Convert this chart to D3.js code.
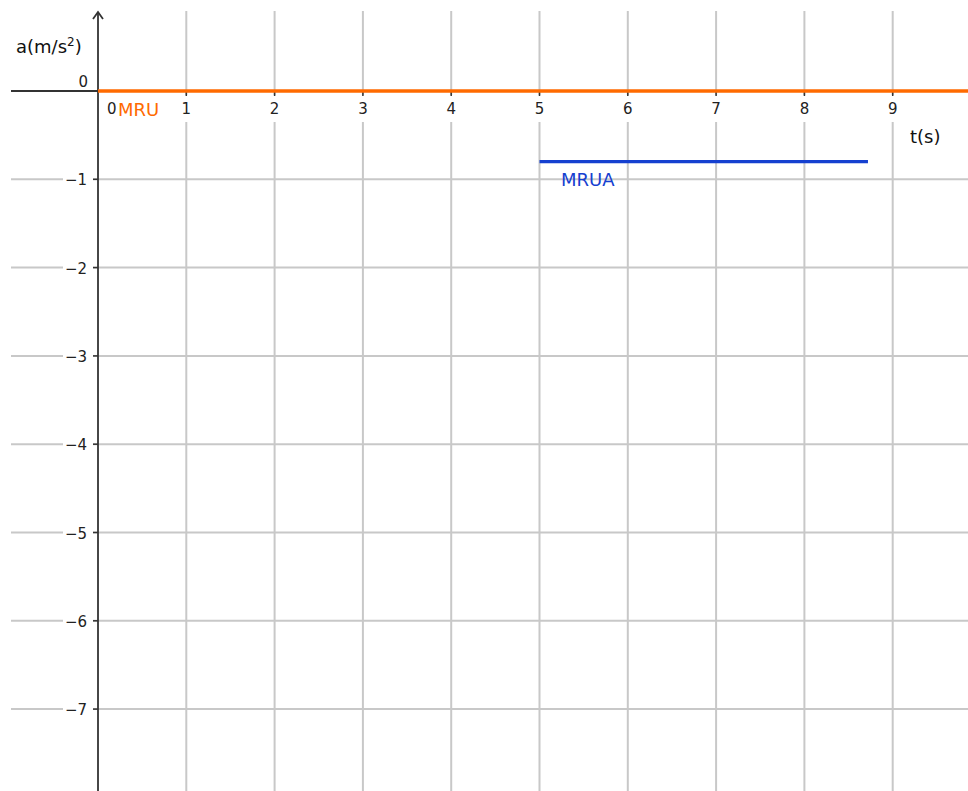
<!DOCTYPE html>
<html><head><meta charset="utf-8">
<script src="https://cdn.jsdelivr.net/npm/d3@7"></script>
<style>html,body{margin:0;padding:0;background:#fff;}svg{display:block;}</style>
</head><body>
<script>
const xTicks = [1, 2, 3, 4, 5, 6, 7, 8, 9];
const yTicks = [-1, -2, -3, -4, -5, -6, -7];
const mruT = [0, 9.9];
const mruA = [0, 0];
const mruaT = [5, 8.72];
const mruaA = [-0.8, -0.8];
const xLabel = "t(s)";
const seriesNames = ["MRU", "MRUA"];

const W = 968, H = 791;
const unit = 88.3;
const x = d3.scaleLinear().domain([0, 1]).range([98, 98 + unit]);
const y = d3.scaleLinear().domain([0, -1]).range([91, 91 + unit]);
const font = "DejaVu Sans, sans-serif";

const svg = d3.select("body").append("svg").attr("width", W).attr("height", H);

// grid
const gridCol = "#c8c8c8";
svg.append("g").selectAll("line").data(xTicks).join("line")
  .attr("x1", d => x(d)).attr("x2", d => x(d))
  .attr("y1", 11).attr("y2", H)
  .attr("stroke", gridCol).attr("stroke-width", 2);
svg.append("g").selectAll("line").data(yTicks).join("line")
  .attr("x1", 11).attr("x2", W)
  .attr("y1", d => y(d)).attr("y2", d => y(d))
  .attr("stroke", gridCol).attr("stroke-width", 2);

// label backgrounds
svg.append("g").selectAll("rect").data(xTicks).join("rect")
  .attr("x", d => x(d) - 8).attr("y", y(0) + 4).attr("width", 16).attr("height", 27)
  .attr("fill", "#fff");
svg.append("g").selectAll("rect").data(yTicks).join("rect")
  .attr("x", 63).attr("y", d => y(d) - 9).attr("width", 30).attr("height", 18)
  .attr("fill", "#fff");

// axes
const axCol = "#333";
svg.append("line").attr("x1", 11).attr("x2", W).attr("y1", y(0)).attr("y2", y(0))
  .attr("stroke", axCol).attr("stroke-width", 1.8);
svg.append("line").attr("x1", x(0)).attr("x2", x(0)).attr("y1", 12).attr("y2", H)
  .attr("stroke", axCol).attr("stroke-width", 1.8);
svg.append("path").attr("d", `M${x(0)-5},${19} L${x(0)},${12} L${x(0)+5},${19}`)
  .attr("fill", "none").attr("stroke", axCol).attr("stroke-width", 1.8);

// ticks
svg.append("g").selectAll("line").data(xTicks).join("line")
  .attr("x1", d => x(d)).attr("x2", d => x(d))
  .attr("y1", y(0)).attr("y2", y(0) + 5)
  .attr("stroke", axCol).attr("stroke-width", 1.5);
svg.append("g").selectAll("line").data(yTicks).join("line")
  .attr("x1", x(0) - 5).attr("x2", x(0))
  .attr("y1", d => y(d)).attr("y2", d => y(d))
  .attr("stroke", axCol).attr("stroke-width", 1.5);

// tick labels
svg.append("g").selectAll("text").data(xTicks).join("text")
  .attr("x", d => x(d)).attr("y", y(0) + 23)
  .attr("text-anchor", "middle").attr("font-family", font).attr("font-size", 15)
  .attr("fill", "#222").text(d => d);
svg.append("g").selectAll("text").data(yTicks).join("text")
  .attr("x", x(0) - 11).attr("y", d => y(d) + 6)
  .attr("text-anchor", "end").attr("font-family", font).attr("font-size", 15)
  .attr("fill", "#222").text(d => "\u2212" + Math.abs(d));
svg.append("text").attr("x", x(0) - 10).attr("y", y(0) - 4)
  .attr("text-anchor", "end").attr("font-family", font).attr("font-size", 15)
  .attr("fill", "#222").text("0");
svg.append("text").attr("x", x(0) + 9).attr("y", y(0) + 23)
  .attr("font-family", font).attr("font-size", 15).attr("fill", "#222").text("0");

// axis titles
const yt = svg.append("text").attr("x", 16).attr("y", 53)
  .attr("font-family", font).attr("font-size", 18).attr("fill", "#111");
yt.append("tspan").text("a(m/s");
yt.append("tspan").attr("font-size", 12).attr("dy", -7).text("2");
yt.append("tspan").attr("dy", 7).text(")");
svg.append("text").attr("x", 910).attr("y", 143)
  .attr("font-family", font).attr("font-size", 18).attr("fill", "#111").text(xLabel);

// series
const line = d3.line().x(d => x(d[0])).y(d => y(d[1]));
svg.append("path").datum(d3.zip(mruT, mruA)).attr("d", line)
  .attr("stroke", "#ff6a00").attr("stroke-width", 3.5).attr("fill", "none");
svg.append("path").datum(d3.zip(mruaT, mruaA)).attr("d", line)
  .attr("stroke", "#1540d0").attr("stroke-width", 3.2).attr("fill", "none");

svg.append("text").attr("x", 118).attr("y", 116)
  .attr("font-family", font).attr("font-size", 18).attr("fill", "#ff6a00").text(seriesNames[0]);
svg.append("text").attr("x", 561).attr("y", 186)
  .attr("font-family", font).attr("font-size", 18).attr("fill", "#1540d0").text(seriesNames[1]);
</script>
</body></html>
